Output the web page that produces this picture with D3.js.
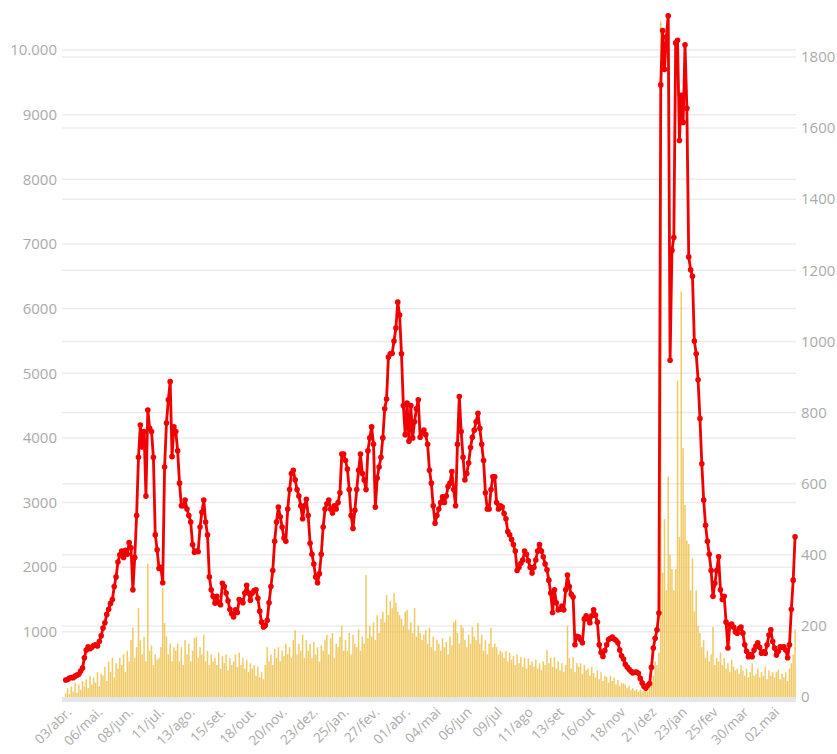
<!DOCTYPE html>
<html>
<head>
<meta charset="utf-8">
<script src="https://cdn.jsdelivr.net/npm/d3@7"></script>
<style>
  body { margin: 0; background: #fff; }
  text { font-family: "Open Sans", sans-serif; }
</style>
</head>
<body>
<div id="chart"></div>
<script>
const W = 837, H = 754;

// first sample date, one value every 2 days
const startDate = "2020-03-29";
const stepDays = 2;

// red line (left axis)
const lineValues = [
  255, 262, 285, 295, 290, 315, 330, 345, 395, 440,
  600, 720, 770, 740, 760, 790, 800, 780, 850, 940,
  1060, 1140, 1270, 1350, 1440, 1500, 1700, 1850, 2080, 2190,
  2250, 2150, 2260, 2200, 2380, 2300, 1650, 2150, 2800, 3700,
  4200, 3860, 4100, 3100, 4430, 4150, 4100, 3700, 2500, 2270,
  1980, 2000, 1760, 3550, 4230, 4590, 4870, 3710, 4170, 4100,
  3800, 3300, 2950, 2950, 3040, 2900, 2800, 2700, 2350, 2230,
  2250, 2240, 2620, 2850, 3040, 2700, 2500, 1850, 1650, 1550,
  1445, 1550, 1450, 1420, 1750, 1700, 1600, 1480, 1350, 1280,
  1230, 1340, 1300, 1500, 1480, 1450, 1600, 1720, 1600, 1490,
  1600, 1640, 1650, 1520, 1320, 1150, 1075, 1100, 1180, 1450,
  1700, 1950, 2400, 2700, 2930, 2780, 2620, 2450, 2400, 2900,
  3200, 3450, 3500, 3350, 3200, 3100, 2950, 2750, 2950, 3050,
  2800, 2370, 2200, 2050, 1850, 1760, 1900, 2200, 2620, 2900,
  2980, 3040, 2900, 2840, 2950, 2900, 3000, 3150, 3750, 3750,
  3650, 3520, 3200, 2800, 2600, 2880, 3200, 3500, 3750, 3450,
  3350, 3200, 3800, 4000, 4170, 3900, 2930, 3380, 3550, 3700,
  4000, 4450, 4600, 5250, 5300, 5310, 5500, 5700, 6100, 5900,
  5300, 4500, 4050, 4540, 3950, 4500, 4000, 4250, 4450, 4590,
  4010, 4080, 4120, 4050, 3900, 3500, 3300, 2950, 2680, 2800,
  2900, 3000, 3090, 3000, 3100, 3250, 3300, 3480, 3200, 2950,
  3900, 4640, 4100, 3700, 3350, 3450, 3610, 3850, 4010, 4120,
  4250, 4380, 4150, 3900, 3650, 3150, 2900, 2900, 3200, 3400,
  3400, 3000, 2900, 2950, 2930, 2830, 2750, 2550, 2500, 2430,
  2350, 2250, 1950, 2000, 2060, 2110, 2250, 2200, 2100, 2000,
  1910, 2000, 2110, 2250, 2350, 2250, 2160, 2050, 1960, 1800,
  1600, 1300, 1650, 1450, 1340, 1350, 1400, 1340, 1650, 1880,
  1700, 1580, 1540, 800, 930, 920, 880, 830, 1200, 1250,
  1200, 1140, 1250, 1340, 1260, 1150, 800, 680, 620, 710,
  800, 880, 900, 920, 890, 870, 830, 720, 630, 580,
  500, 455, 420, 390, 365, 375, 380, 360, 280, 210,
  160, 130, 170, 200, 450, 750, 900, 1030, 1290, 9460,
  10300, 9700, 10200, 10530, 5200, 6900, 7100, 10110, 10150, 8600,
  9300, 8880, 10080, 9100, 6800, 6600, 6500, 5500, 5300, 4900,
  4300, 3600, 3040, 2650, 2400, 2200, 1950, 1550, 1750, 1950,
  2160, 1650, 1500, 1550, 1150, 750, 1100, 1120, 1075, 1000,
  980, 1050, 1075, 980, 800, 700, 615, 650, 615, 720,
  780, 830, 760, 670, 690, 670, 800, 950, 1030, 850,
  750, 640, 700, 770, 760, 770, 720, 600, 800, 1350,
  1800, 2470
];

// yellow bars (right axis)
const barValues = [
  10, 25, 8, 30, 15, 40, 12, 35, 20, 45,
  30, 50, 25, 60, 35, 55, 40, 70, 30, 65,
  60, 85, 45, 100, 70, 110, 55, 95, 80, 110,
  90, 120, 70, 130, 100, 160, 195, 110, 140, 250,
  160, 120, 170, 100, 375, 130, 145, 90, 120, 105,
  110, 140, 306, 208, 170, 120, 150, 100, 140, 130,
  150, 100, 140, 90, 160, 120, 150, 100, 130, 165,
  170, 110, 140, 120, 175, 100, 130, 90, 120, 100,
  110, 90, 125, 80, 115, 95, 120, 75, 110, 90,
  100, 120, 85, 125, 90, 110, 80, 105, 70, 95,
  80, 90, 60, 85, 55, 70, 50, 90, 140, 100,
  120, 90, 135, 110, 140, 100, 130, 115, 150, 120,
  140, 110, 160, 188, 120, 150, 130, 175, 110, 160,
  130, 150, 110, 155, 120, 140, 100, 145, 130, 160,
  175, 120, 165, 180, 110, 150, 140, 170, 200, 130,
  160, 130, 180, 120, 175, 150, 140, 190, 130, 170,
  150, 343, 165, 200, 170, 210, 160, 230, 180, 220,
  240, 210, 287, 230, 270, 250, 292, 265, 240, 230,
  220, 200, 240, 245, 190, 210, 180, 250, 170, 200,
  180, 160, 175, 188, 150, 195, 140, 170, 130, 160,
  150, 130, 165, 140, 155, 120, 170, 145, 210, 216,
  180, 150, 202, 195, 160, 140, 175, 150, 197, 170,
  160, 208, 150, 175, 130, 160, 120, 150, 194, 140,
  150, 140, 120, 130, 125, 110, 130, 100, 125, 105,
  115, 90, 120, 95, 112, 85, 110, 80, 108, 90,
  100, 85, 105, 80, 95, 75, 100, 90, 132, 95,
  110, 85, 112, 80, 100, 75, 95, 70, 90, 200,
  110, 80, 112, 70, 95, 85, 95, 65, 90, 75,
  80, 60, 85, 67, 55, 75, 50, 70, 45, 60,
  56, 40, 60, 45, 55, 35, 48, 30, 40, 38,
  35, 25, 32, 20, 25, 18, 22, 15, 20, 16,
  18, 20, 15, 25, 40, 60, 100, 90, 125, 1900,
  350, 500, 300, 620, 400, 360, 300, 360, 890, 450,
  1140, 700, 540, 440, 430, 300, 390, 240, 300, 200,
  180, 140, 160, 110, 130, 100, 120, 197, 90, 110,
  100, 125, 90, 110, 80, 95, 70, 105, 85, 75,
  80, 65, 90, 75, 60, 80, 55, 70, 95, 60,
  65, 80, 55, 70, 60, 85, 50, 75, 60, 70,
  55, 70, 76, 50, 65, 55, 70, 45, 80, 95,
  120, 190
];

const tickDates = ["2020-04-03", "2020-05-06", "2020-06-08", "2020-07-11", "2020-08-13",
  "2020-09-15", "2020-10-18", "2020-11-20", "2020-12-23", "2021-01-25", "2021-02-27",
  "2021-04-01", "2021-05-04", "2021-06-06", "2021-07-09", "2021-08-11", "2021-09-13",
  "2021-10-16", "2021-11-18", "2021-12-21", "2022-01-23", "2022-02-25", "2022-03-30",
  "2022-05-02"];
const tickLabels = ["03/abr.", "06/mai.", "08/jun.", "11/jul.", "13/ago.", "15/set.",
  "18/out.", "20/nov.", "23/dez.", "25/jan.", "27/fev.", "01/abr.", "04/mai", "06/jun",
  "09/jul", "11/ago", "13/set", "16/out", "18/nov", "21/dez", "23/jan", "25/fev",
  "30/mar", "02.mai"];

const leftTicks = [1000, 2000, 3000, 4000, 5000, 6000, 7000, 8000, 9000, 10000];
const leftTickLabels = ["1000", "2000", "3000", "4000", "5000", "6000", "7000", "8000", "9000", "10.000"];
const rightTicks = [0, 200, 400, 600, 800, 1000, 1200, 1400, 1600, 1800];

const plot = { left: 62, right: 796, base: 697 };

const parse = d3.utcParse("%Y-%m-%d");
const t0 = parse(startDate);
const lineData = lineValues.map((v, i) => ({ date: d3.utcDay.offset(t0, i * stepDays), v }));
const barData = barValues.map((v, i) => ({ date: d3.utcDay.offset(t0, i * stepDays), v }));

const x = d3.scaleUtc()
  .domain([parse("2020-03-25"), parse("2022-05-21")])
  .range([plot.left, plot.right]);
const yL = d3.scaleLinear().domain([0, 10000]).range([696.5, 50]);
const yR = d3.scaleLinear().domain([0, 1800]).range([697, 57]);

const svg = d3.select("#chart")
  .append("svg")
    .attr("width", W)
    .attr("height", H);

// grid lines for both axes
svg.append("g")
  .selectAll("line")
  .data(leftTicks)
  .join("line")
    .attr("x1", plot.left).attr("x2", plot.right)
    .attr("y1", d => yL(d)).attr("y2", d => yL(d))
    .attr("stroke", "#ececec").attr("stroke-width", 1.5);
svg.append("g")
  .selectAll("line")
  .data(rightTicks.filter(d => d > 0))
  .join("line")
    .attr("x1", plot.left).attr("x2", plot.right)
    .attr("y1", d => yR(d)).attr("y2", d => yR(d))
    .attr("stroke", "#ececec").attr("stroke-width", 1.5);

// base band
svg.append("rect")
  .attr("x", plot.left).attr("width", plot.right - plot.left)
  .attr("y", plot.base).attr("height", 5)
  .attr("fill", "#e6e6e6");

// bars
const bw = x(d3.utcDay.offset(t0, stepDays)) - x(t0);
svg.append("g")
  .selectAll("rect")
  .data(barData)
  .join("rect")
    .attr("x", d => x(d.date) - bw * 0.4)
    .attr("width", bw * 0.8)
    .attr("y", d => yR(d.v))
    .attr("height", d => yR(0) - yR(d.v))
    .attr("fill", "#eebf48")
    .attr("fill-opacity", 0.85);

// red line + dots
const line = d3.line()
  .x(d => x(d.date))
  .y(d => yL(d.v));
svg.append("path")
  .datum(lineData)
  .attr("fill", "none")
  .attr("stroke", "#f00000")
  .attr("stroke-width", 2.8)
  .attr("stroke-linejoin", "round")
  .attr("d", line);
svg.append("g")
  .selectAll("circle")
  .data(lineData)
  .join("circle")
    .attr("cx", d => x(d.date))
    .attr("cy", d => yL(d.v))
    .attr("r", 2.8)
    .attr("fill", "#f00000");

// left axis labels
svg.append("g")
  .selectAll("text")
  .data(leftTicks)
  .join("text")
    .attr("x", 57)
    .attr("y", d => yL(d))
    .attr("dy", "0.35em")
    .attr("text-anchor", "end")
    .attr("font-size", 15)
    .attr("fill", "#aaa")
    .text((d, i) => leftTickLabels[i]);

// right axis labels
svg.append("g")
  .selectAll("text")
  .data(rightTicks)
  .join("text")
    .attr("x", 801)
    .attr("y", d => yR(d))
    .attr("dy", "0.35em")
    .attr("font-size", 15)
    .attr("fill", "#aaa")
    .text(d => d);

// x axis labels
svg.append("g")
  .selectAll("text")
  .data(tickDates)
  .join("text")
    .attr("transform", d => `translate(${x(parse(d)) + 2},713)rotate(-45)`)
    .attr("text-anchor", "end")
    .attr("font-size", 13.5)
    .attr("fill", "#aaa")
    .text((d, i) => tickLabels[i]);
</script>
</body>
</html>
